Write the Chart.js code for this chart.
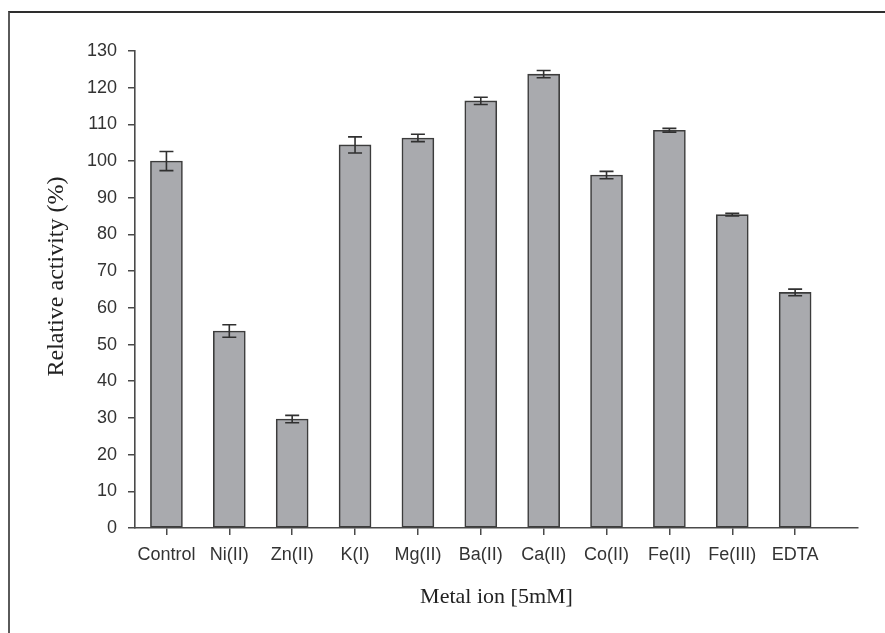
<!DOCTYPE html>
<html>
<head>
<meta charset="utf-8">
<script src="https://cdn.jsdelivr.net/npm/chart.js@4/dist/chart.umd.min.js"></script>
<style>
  html, body { margin: 0; padding: 0; background: #fff; }
  #wrap { position: relative; width: 885px; height: 633px; overflow: hidden; }
  #frame { position: absolute; left: 8px; top: 11px; width: 900px; height: 700px;
           border-top: 2px solid #2e2e2e; border-left: 2px solid #5a5a5a; }
  canvas { position: absolute; left: 0; top: 0; }
</style>
</head>
<body>
<div id="wrap">
  <div id="frame"></div>
  <canvas id="c" width="885" height="633"></canvas>
</div>
<script>
// Relative enzyme activity in the presence of metal ions (5 mM)
const categories = ['Control', 'Ni(II)', 'Zn(II)', 'K(I)', 'Mg(II)', 'Ba(II)', 'Ca(II)', 'Co(II)', 'Fe(II)', 'Fe(III)', 'EDTA'];
const activity   = [100.0, 53.7, 29.7, 104.4, 106.3, 116.4, 123.7, 96.2, 108.4, 85.4, 64.2];
const errors     = [2.6, 1.7, 1.0, 2.2, 1.0, 1.0, 1.0, 1.0, 0.5, 0.35, 0.9];
const yTicks     = [0, 10, 20, 30, 40, 50, 60, 70, 80, 90, 100, 110, 120, 130];

const axisColor = '#4a4a4a';
const tickFont = { family: "'Liberation Sans', Arial, sans-serif", size: 18 };
const titleFont = { family: "'Liberation Serif', 'Times New Roman', serif", size: 22 };

// Error bars drawn on top of each bar from the activity/errors arrays
const errorBars = {
  id: 'errorBars',
  afterDatasetsDraw(chart) {
    const meta = chart.getDatasetMeta(0);
    const ys = chart.scales.y;
    const ctx = chart.ctx;
    ctx.save();
    ctx.strokeStyle = '#303030';
    ctx.lineWidth = 1.6;
    meta.data.forEach((bar, i) => {
      const hi = ys.getPixelForValue(activity[i] + errors[i]);
      const lo = ys.getPixelForValue(activity[i] - errors[i]);
      const x = bar.x, w = 7;
      ctx.beginPath();
      ctx.moveTo(x, hi); ctx.lineTo(x, lo);
      ctx.moveTo(x - w, hi); ctx.lineTo(x + w, hi);
      ctx.moveTo(x - w, lo); ctx.lineTo(x + w, lo);
      ctx.stroke();
    });
    ctx.restore();
  }
};

// Vertical axis title, placed beside the y axis
const yTitle = {
  id: 'yTitle',
  afterDraw(chart) {
    const ctx = chart.ctx;
    const a = chart.chartArea;
    ctx.save();
    ctx.translate(57, (a.top + a.bottom) / 2 - 13);
    ctx.rotate(-Math.PI / 2);
    ctx.font = `24px ${titleFont.family}`;
    ctx.fillStyle = '#222';
    ctx.textAlign = 'center';
    ctx.textBaseline = 'middle';
    ctx.fillText('Relative activity (%)', 0, 0);
    ctx.restore();
  }
};

new Chart(document.getElementById('c'), {
  type: 'bar',
  data: {
    datasets: [{
      data: activity.map((v, i) => ({ x: i, y: v })),
      backgroundColor: '#a9aaae',
      borderColor: '#3c3c3c',
      borderWidth: 1.6,
      borderSkipped: false,
      barThickness: 32
    }]
  },
  options: {
    responsive: false,
    animation: false,
    events: [],
    layout: { padding: { left: 0, right: 27, top: 51, bottom: 0 } },
    plugins: { legend: { display: false }, tooltip: { enabled: false } },
    scales: {
      x: {
        type: 'linear',
        offset: false,
        min: -0.5,
        max: 11,
        afterBuildTicks: s => { s.ticks = categories.map((c, i) => ({ value: i })); },
        afterFit: s => { s.height = 105; },
        grid: { display: true, offset: false, drawOnChartArea: false, drawTicks: true, tickLength: 7, color: axisColor, lineWidth: 1.5 },
        border: { display: true, color: axisColor, width: 1.6 },
        ticks: {
          autoSkip: false, maxRotation: 0, padding: 9,
          color: '#333', font: tickFont,
          callback: v => categories[v] ?? ''
        },
        title: { display: true, text: 'Metal ion [5mM]', color: '#222', font: titleFont, padding: { top: 0, bottom: 23 } }
      },
      y: {
        min: 0,
        max: 130,
        afterBuildTicks: s => { s.ticks = yTicks.map(v => ({ value: v })); },
        afterFit: s => { s.width = 135; },
        grid: { display: true, drawOnChartArea: false, drawTicks: true, tickLength: 7, color: axisColor, lineWidth: 1.5 },
        border: { display: true, color: axisColor, width: 1.6 },
        ticks: { padding: 11, color: '#333', font: tickFont }
      }
    }
  },
  plugins: [errorBars, yTitle]
});
</script>
</body>
</html>
